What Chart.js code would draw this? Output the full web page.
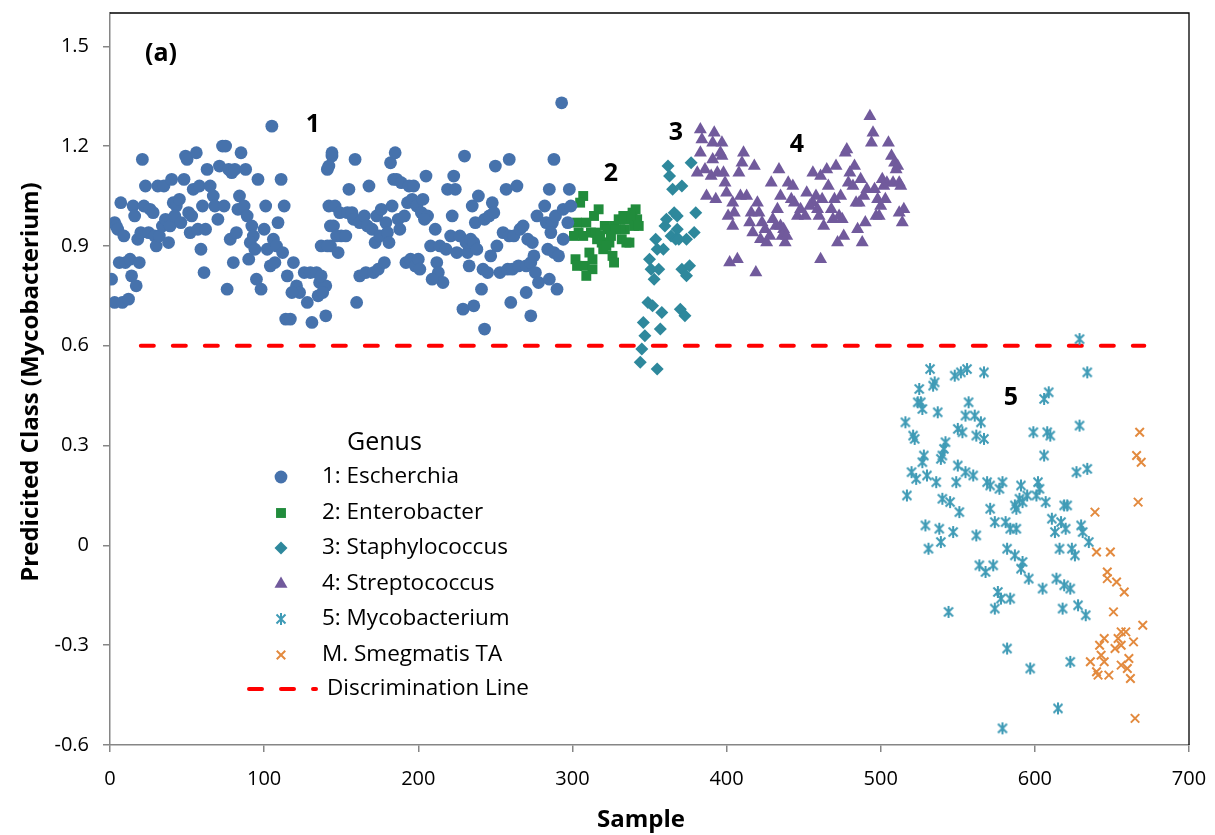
<!DOCTYPE html>
<html>
<head>
<meta charset="utf-8">
<script src="https://cdn.jsdelivr.net/npm/chart.js@4/dist/chart.umd.min.js"></script>
<style>
  html, body { margin: 0; padding: 0; background: #fff; }
  #wrap { width: 1215px; height: 835px; position: relative; }
</style>
</head>
<body>
<div id="wrap"><canvas id="chart"></canvas></div>
<script>
// values: [sample, predicted class]
const escherichia = [
  [1,0.80],[3,0.73],[8,0.73],[12,0.74],[3,0.97],[4,0.96],[5,0.95],[9,0.93],[7,1.03],[6,0.85],
  [10,0.85],[13,0.86],[14,0.81],[17,0.78],[15,1.02],[16,0.99],[19,0.85],[18,0.92],[20,0.94],[25,0.94],
  [29,0.93],[21,1.16],[22,1.02],[26,1.01],[28,1.00],[23,1.08],[30,0.90],[32,0.93],[34,0.96],[36,0.98],
  [38,0.91],[31,1.08],[35,1.08],[40,1.10],[41,1.03],[43,1.02],[45,1.04],[39,0.96],[42,0.99],[46,0.97],
  [48,1.10],[49,1.17],[50,1.16],[56,1.18],[51,1.00],[53,0.99],[54,1.07],[52,0.94],[57,0.95],[58,1.08],
  [62,0.95],[59,0.89],[61,0.82],[60,1.02],[63,1.13],[65,1.08],[67,1.05],[68,1.02],[70,0.98],[71,1.14],
  [73,1.20],[75,1.20],[77,1.13],[79,1.12],[81,1.13],[88,1.13],[74,1.02],[76,0.77],[78,0.92],[82,0.94],
  [80,0.85],[83,1.01],[84,1.05],[87,1.02],[89,0.99],[92,0.96],[93,0.93],[85,1.18],[90,0.86],[91,0.91],
  [94,0.89],[95,0.80],[96,1.10],[98,0.77],[100,0.95],[102,0.89],[106,0.92],[108,0.90],[112,0.88],[101,1.02],
  [113,1.02],[104,0.84],[107,0.85],[109,0.97],[111,1.10],[105,1.26],[115,0.81],[119,0.85],[121,0.78],[123,0.76],
  [126,0.82],[128,0.73],[130,0.82],[134,0.82],[136,0.79],[139,0.78],[135,0.75],[114,0.68],[117,0.68],[131,0.67],
  [140,0.69],[118,0.76],[137,0.90],[143,0.90],[144,1.17],[141,1.13],[142,1.02],[145,0.96],
  [144,1.18],[142,1.14],[141,0.90],[148,0.88],[140,0.78],[137,0.81],[138,0.76],[143,0.96],[146,1.02],[149,1.00],
  [154,1.00],[157,1.00],[158,0.98],[162,0.97],[165,0.99],[147,0.93],[150,0.93],[153,0.93],[159,1.16],[155,1.07],
  [160,0.73],[162,0.81],[166,0.82],[171,0.82],[174,0.83],[178,0.85],[167,0.96],[170,0.95],[172,0.91],[175,0.93],
  [179,0.97],[180,0.94],[181,0.91],[168,1.08],[173,0.99],[176,1.01],[183,1.02],[182,1.15],[185,1.18],[184,1.10],
  [186,1.10],[189,1.09],[194,1.08],[197,1.08],[187,0.98],[191,0.99],[188,0.95],[192,0.85],[195,0.86],[198,0.84],
  [200,0.86],[201,0.83],[193,1.03],[196,1.04],[199,1.02],[202,1.00],[203,1.04],[206,0.99],[204,0.98],[205,1.11],
  [208,0.90],[211,0.95],[212,0.85],[213,0.82],[214,0.90],[216,0.79],[209,0.80],[218,0.89],[221,0.93],[222,0.99],
  [223,1.11],[219,1.07],[224,1.07],[225,0.88],[227,0.93],[232,0.88],[231,0.91],[234,0.92],[236,0.91],[238,0.89],
  [233,0.84],[230,1.17],[229,0.71],[236,0.72],[235,1.02],[239,1.05],[237,0.97],[243,0.98],[246,0.99],[248,1.03],
  [249,1.00],[241,0.77],[242,0.83],[245,0.82],[243,0.65],[247,0.87],[250,1.14],[251,0.90],[253,0.82],[258,0.83],
  [261,0.83],[265,0.84],[270,0.84],[273,0.85],[275,0.87],[255,0.94],[259,0.93],[262,0.93],[266,0.95],[268,0.96],
  [271,0.92],[274,0.91],[257,1.07],[264,1.08],[259,1.16],[260,0.73],[270,0.76],[273,0.69],[277,0.99],[282,1.02],
  [283,0.97],[287,0.97],[289,0.99],[276,0.82],[278,0.79],[285,0.80],[290,0.77],[284,0.89],[288,0.88],[291,0.87],
  [294,0.92],[297,0.97],[285,1.07],[298,1.07],[288,1.16],[293,1.33],[294,1.01],[299,1.02],[286,0.94]
];
const enterobacter = [
  [307,1.05],[305,1.03],[317,1.01],[314,0.99],[303,0.97],[304,0.94],[301,0.93],[307,0.93],[312,0.94],[315,0.94],
  [316,0.92],[319,0.91],[320,0.89],[321,0.96],[323,0.95],[327,0.96],[330,0.98],[333,0.99],[336,0.98],[339,1.00],
  [341,1.01],[342,0.98],[340,0.96],[334,0.95],[331,0.95],[328,0.95],[332,0.92],[335,0.91],[337,0.91],[325,0.93],
  [324,0.91],[311,0.88],[313,0.86],[308,0.84],[302,0.86],[303,0.84],[313,0.83],[309,0.81],[326,0.87],[327,0.85],
  [309,0.97],[318,0.93],[343,0.96],[322,0.90],[338,0.99]
];
const staphylococcus = [
  [362,1.14],[363,1.11],[377,1.15],[365,1.07],[371,1.08],[366,1.00],[368,0.99],[380,1.00],[360,0.96],[364,0.93],
  [368,0.95],[367,0.92],[374,0.92],[379,0.94],[354,0.92],[359,0.89],[355,0.89],[350,0.86],[351,0.83],[356,0.83],
  [353,0.80],[371,0.83],[376,0.84],[374,0.81],[349,0.73],[352,0.72],[358,0.70],[370,0.71],[373,0.69],[346,0.67],
  [357,0.65],[347,0.63],[345,0.59],[344,0.55],[355,0.53],[361,0.98],[369,0.92]
];
const streptococcus = [
  [383,1.25],[392,1.24],[384,1.22],[391,1.21],[397,1.21],[383,1.18],[391,1.16],[396,1.18],[397,1.17],[411,1.18],
  [410,1.15],[418,1.14],[381,1.12],[386,1.13],[390,1.11],[394,1.12],[398,1.12],[408,1.12],[387,1.05],[393,1.04],
  [400,1.06],[399,1.09],[404,1.03],[409,1.05],[413,1.05],[405,1.00],[416,1.00],[420,1.03],[421,1.00],[415,0.97],
  [404,0.96],[417,0.94],[423,0.97],[425,0.95],[422,0.92],[426,0.91],[433,1.01],[430,0.98],[432,0.96],[435,0.96],
  [437,0.95],[436,0.93],[438,0.91],[439,0.93],[434,1.13],[429,1.09],[440,1.09],[435,1.05],[442,1.04],[444,1.03],
  [446,0.99],[451,0.99],[448,1.01],[452,1.06],[456,1.12],[461,1.11],[465,1.13],[471,1.14],[458,1.05],[462,1.04],
  [456,1.03],[459,1.01],[460,0.99],[463,0.96],[468,1.01],[469,0.98],[466,1.08],[470,1.04],[474,1.05],[473,0.99],
  [475,0.98],[472,0.91],[476,0.93],[461,0.86],[477,1.18],[478,1.19],[483,1.14],[479,1.09],[482,1.08],[487,1.10],
  [484,1.03],[486,1.03],[489,1.05],[491,1.07],[496,1.07],[485,0.95],[490,0.97],[488,0.91],[495,1.24],[494,1.21],
  [505,1.21],[493,1.29],[507,1.17],[509,1.15],[511,1.14],[510,1.13],[498,1.04],[500,1.02],[503,1.04],[504,1.09],
  [508,1.09],[512,1.09],[513,1.08],[497,0.99],[499,0.99],[512,1.00],[515,1.01],[514,0.97],[501,1.10],[502,1.08],
  [402,0.85],[407,0.86],[419,0.82],[401,0.99],[428,0.93],[443,1.08],[454,1.02],[480,1.12]
];
const mycobacterium = [
  [629,0.62],[532,0.53],[548,0.51],[552,0.52],[556,0.53],[567,0.52],[634,0.52],[525,0.47],[534,0.48],[535,0.49],
  [524,0.43],[526,0.43],[527,0.41],[537,0.40],[557,0.43],[609,0.46],[606,0.44],[516,0.37],[555,0.39],[561,0.39],
  [565,0.37],[521,0.33],[522,0.32],[550,0.35],[553,0.34],[562,0.33],[567,0.32],[599,0.34],[608,0.34],[610,0.33],
  [629,0.36],[542,0.31],[541,0.29],[528,0.27],[527,0.25],[539,0.26],[540,0.27],[606,0.27],[520,0.22],[523,0.20],
  [530,0.21],[536,0.19],[550,0.24],[555,0.22],[560,0.21],[549,0.19],[627,0.22],[634,0.23],[569,0.19],[571,0.18],
  [577,0.17],[579,0.19],[591,0.18],[602,0.19],[603,0.17],[601,0.15],[517,0.15],[540,0.14],[545,0.13],[551,0.10],
  [571,0.11],[587,0.12],[590,0.14],[592,0.13],[595,0.15],[588,0.11],[607,0.13],[619,0.12],[621,0.12],[529,0.06],
  [538,0.05],[547,0.04],[562,0.03],[574,0.07],[581,0.07],[584,0.05],[588,0.05],[611,0.08],[617,0.07],[613,0.04],
  [620,0.05],[630,0.06],[631,0.04],[531,-0.01],[539,0.01],[564,-0.06],[568,-0.08],[573,-0.06],[582,-0.01],[587,-0.03],
  [592,-0.05],[591,-0.07],[596,-0.10],[605,-0.13],[576,-0.14],[578,-0.16],[574,-0.19],[584,-0.16],[544,-0.20],[616,-0.01],
  [624,-0.01],[626,-0.03],[635,0.01],[614,-0.10],[619,-0.12],[623,-0.13],[618,-0.19],[628,-0.18],[633,-0.21],[582,-0.31],
  [597,-0.37],[623,-0.35],[615,-0.49],[579,-0.55]
];
const smegmatisTA = [
  [668,0.34],[666,0.27],[669,0.25],[667,0.13],[639,0.10],[640,-0.02],[649,-0.02],[647,-0.08],[647,-0.10],[653,-0.11],
  [658,-0.14],[651,-0.20],[670,-0.24],[656,-0.26],[659,-0.26],[654,-0.28],[664,-0.29],[645,-0.28],[642,-0.30],[652,-0.31],
  [656,-0.30],[636,-0.35],[643,-0.33],[645,-0.35],[640,-0.38],[641,-0.39],[648,-0.39],[656,-0.36],[661,-0.34],[660,-0.37],
  [662,-0.40],[665,-0.52]
];
const discX = [20, 671];
const discY = 0.6;
const yTicks = [-0.6, -0.3, 0, 0.3, 0.6, 0.9, 1.2, 1.5];
const seriesNames = ['1: Escherchia', '2: Enterobacter', '3: Staphylococcus', '4: Streptococcus',
  '5: Mycobacterium', 'M. Smegmatis TA', 'Discrimination Line'];

const toXY = arr => arr.map(p => ({ x: p[0], y: p[1] }));

// six-armed asterisk like the office "star" marker
function asterisk(color) {
  const c = document.createElement('canvas');
  c.width = 14; c.height = 14;
  const g = c.getContext('2d');
  g.strokeStyle = color; g.lineWidth = 2; g.lineCap = 'butt';
  g.beginPath();
  g.moveTo(2.5, 2.5); g.lineTo(11.5, 11.5);
  g.moveTo(11.5, 2.5); g.lineTo(2.5, 11.5);
  g.moveTo(7, 1); g.lineTo(7, 13);
  g.stroke();
  return c;
}
const starImg = asterisk('#3F9BB6');

const FONT = '"Open Sans", sans-serif';

const datasets = [
  { label: seriesNames[0], data: toXY(escherichia), pointStyle: 'circle', pointRadius: 6.4,
    backgroundColor: '#4672AC', borderColor: '#4672AC', borderWidth: 0 },
  { label: seriesNames[1], data: toXY(enterobacter), pointStyle: 'rect', pointRadius: 7,
    backgroundColor: '#218C3C', borderColor: '#218C3C', borderWidth: 0 },
  { label: seriesNames[2], data: toXY(staphylococcus), pointStyle: 'rectRot', pointRadius: 6.5,
    backgroundColor: '#2E889C', borderColor: '#2E889C', borderWidth: 0 },
  { label: seriesNames[3], data: toXY(streptococcus), pointStyle: 'triangle', pointRadius: 7.5,
    backgroundColor: '#715A9C', borderColor: '#715A9C', borderWidth: 0 },
  { label: seriesNames[4], data: toXY(mycobacterium), pointStyle: starImg, pointRadius: 7,
    backgroundColor: '#3F9BB6', borderColor: '#3F9BB6', borderWidth: 2 },
  { label: seriesNames[5], data: toXY(smegmatisTA), pointStyle: 'crossRot', pointRadius: 6,
    backgroundColor: '#E38A3E', borderColor: '#E38A3E', borderWidth: 2 },
  { label: seriesNames[6], data: discX.map(x => ({ x: x, y: discY })), showLine: true, pointRadius: 0,
    borderColor: '#FF0000', borderWidth: 4, borderDash: [13, 19], borderCapStyle: 'round', fill: false }
];

// Legend drawn inside the plot area, axis titles, labels and plot frame
const extras = {
  id: 'extras',
  afterDraw(chart) {
    const ctx = chart.ctx;
    const a = chart.chartArea;
    ctx.save();
    // frame on top and right
    ctx.strokeStyle = '#000';
    ctx.lineWidth = 1.3;
    ctx.beginPath();
    ctx.moveTo(a.left, a.top); ctx.lineTo(a.right, a.top); ctx.lineTo(a.right, a.bottom);
    ctx.stroke();

    ctx.fillStyle = '#000';
    ctx.textBaseline = 'middle';
    ctx.textAlign = 'left';
    ctx.font = '25px ' + FONT;
    ctx.fillText('Genus', 347, 443);
    ctx.font = '22.5px ' + FONT;
    const rows = [477, 513, 548, 584, 619, 655, 689];
    chart.data.datasets.forEach((ds, i) => {
      const y = rows[i];
      if (i === 6) {
        ctx.strokeStyle = ds.borderColor;
        ctx.lineWidth = ds.borderWidth;
        ctx.lineCap = 'round';
        ctx.setLineDash(ds.borderDash);
        ctx.beginPath(); ctx.moveTo(249, y); ctx.lineTo(316, y); ctx.stroke();
        ctx.setLineDash([]);
        ctx.fillStyle = '#000';
        ctx.fillText(ds.label, 327, y);
        return;
      }
      ctx.fillStyle = ds.backgroundColor;
      ctx.strokeStyle = ds.borderColor;
      ctx.lineWidth = ds.borderWidth;
      Chart.helpers.drawPoint(ctx, { pointStyle: ds.pointStyle, radius: ds.pointRadius, rotation: 0,
        borderWidth: ds.borderWidth }, 281, y);
      ctx.fillStyle = '#000';
      ctx.fillText(ds.label, 322, y);
    });

    ctx.font = 'bold 25px ' + FONT;
    ctx.textAlign = 'center';
    [['(a)', 161, 54], ['1', 313, 125], ['2', 611, 174], ['3', 676, 133], ['4', 797, 145], ['5', 1011, 398]]
      .forEach(t => ctx.fillText(t[0], t[1], t[2]));

    // axis titles
    ctx.font = 'bold 24px ' + FONT;
    ctx.textBaseline = 'alphabetic';
    ctx.fillText('Sample', 641, 827);
    ctx.translate(38, 382);
    ctx.rotate(-Math.PI / 2);
    ctx.fillText('Predicited Class (Mycobacterium)', 0, 0);
    ctx.restore();
  }
};

new Chart(document.getElementById('chart'), {
  type: 'scatter',
  data: { datasets: datasets },
  options: {
    responsive: true,
    maintainAspectRatio: false,
    animation: false,
    devicePixelRatio: 1,
    layout: { padding: { left: 0, right: 26, top: 13, bottom: 0 } },
    plugins: { legend: { display: false }, tooltip: { enabled: false } },
    scales: {
      x: {
        type: 'linear', min: 0, max: 700,
        ticks: { stepSize: 100, color: '#000', font: { family: FONT, size: 20 }, padding: 15 },
        grid: { drawOnChartArea: false, drawTicks: true, tickLength: 7, color: '#868686', lineWidth: 1.5 },
        border: { color: '#868686', width: 1.5 },
        afterFit(s) { s.height = 90; s.paddingLeft = 0; s.paddingRight = 0; }
      },
      y: {
        type: 'linear', min: -0.6, max: 1.6,
        afterBuildTicks(s) { s.ticks = yTicks.map(v => ({ value: v })); },
        ticks: { color: '#000', font: { family: FONT, size: 20 }, padding: 14,
          callback: v => (Math.abs(v) < 1e-9 ? '0' : (Math.round(v * 10) / 10).toFixed(1)) },
        grid: { drawOnChartArea: false, drawTicks: true, tickLength: 7, color: '#868686', lineWidth: 1.5 },
        border: { color: '#868686', width: 1.5 },
        afterFit(s) { s.width = 110; s.paddingTop = 0; s.paddingBottom = 0; }
      }
    }
  },
  plugins: [extras]
});
</script>
</body>
</html>
